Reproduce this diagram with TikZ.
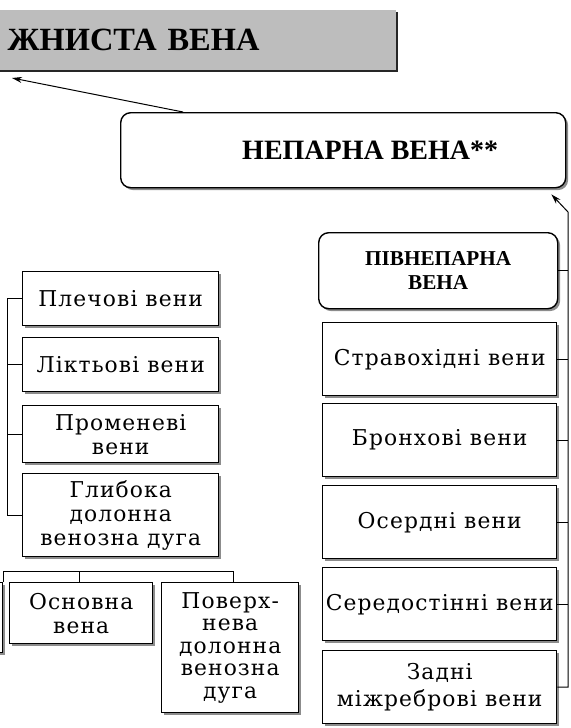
\documentclass[tikz,border=0pt]{standalone}
\usepackage{fontspec}
\setmainfont[LetterSpace=5]{DejaVu Serif}
\newfontfamily\headfont{Liberation Serif}
\usetikzlibrary{shadows,arrows.meta}
\tikzset{
    vbox/.style={draw, line width=0.7pt, fill=white, align=center, inner sep=0pt,
        font=\fontsize{10.9}{12}\selectfont,
        drop shadow={shadow xshift=1.2pt, shadow yshift=-1.2pt, fill=black!45, opacity=1}},
    rbox/.style={vbox, rounded corners=5pt, font=\headfont\bfseries\fontsize{14}{15}\selectfont},
    topbox/.style={fill=black!26, inner xsep=14pt, align=left, text width=180pt,
        minimum width=208pt, minimum height=30pt,
        font=\headfont\bfseries\fontsize{16.2}{20}\selectfont,
        drop shadow={shadow xshift=1.2pt, shadow yshift=-1.2pt, fill=black!85, opacity=1}},
    arr/.style={line width=0.5pt, -{Stealth[length=5pt,width=3pt]}},
    con/.style={line width=0.5pt}
}
\begin{document}
\begin{tikzpicture}[x=0.5pt, y=-0.5pt]
    \useasboundingbox (0,0) rectangle (571,728);
    \clip (0,0) rectangle (571,728);

    % top
    \node[topbox, anchor=south east] (vpv) at (396,70) {ЖНИСТА ВЕНА};
    \node[rbox, anchor=north west, minimum width=222.5pt, minimum height=37.5pt] (nep) at (120,112) {\hspace*{27pt}НЕПАРНА ВЕНА**};
    \coordinate (vpvtip) at (12,78);
    \draw[arr] ([xshift=31.5pt]nep.north west) -- (vpvtip);

    % left column
    \node[vbox, anchor=north west, minimum width=98pt, minimum height=27pt] (ple) at (22,271) {Плечові вени};
    \node[vbox, anchor=north west, minimum width=98pt, minimum height=27pt] (lik) at (22,337) {Ліктьові вени};
    \node[vbox, anchor=north west, minimum width=98pt, minimum height=28.5pt] (pro) at (22,405) {Променеві\\вени};
    \node[vbox, anchor=north west, minimum width=98pt, minimum height=41.5pt] (hly) at (22,473) {Глибока\\долонна\\венозна дуга};
    \coordinate (lb) at (7,0);
    \draw[con] (ple.west) -- (ple.west -| lb) -- (hly.west -| lb) -- (hly.west);
    \foreach \n in {lik,pro}
        \draw[con] (\n.west) -- (\n.west -| lb);

    % bottom
    \node[vbox, anchor=north east, minimum width=40pt, minimum height=35pt] (cut) at (3,582) {};
    \node[vbox, anchor=north west, minimum width=71.5pt, minimum height=30.5pt] (osn) at (9,582) {Основна\\вена};
    \node[vbox, anchor=north west, minimum width=68.5pt, minimum height=65pt,
        font=\fontsize{10.9}{11.2}\selectfont] (pov) at (161,582) {Поверх-\\нева\\долонна\\венозна\\дуга};
    \coordinate (bh) at (0,571);
    \draw[con] (cut.north east) -- (cut.north east |- bh) -- ([xshift=1.5pt]pov.north |- bh) -- ([xshift=1.5pt]pov.north);
    \draw[con] ([xshift=-0.8pt]osn.north) -- ([xshift=-0.8pt]osn.north |- bh);

    % right column
    \node[rbox, anchor=north west, minimum width=119.5pt, minimum height=38pt, font=\headfont\bfseries\fontsize{10.6}{12}\selectfont] (piv) at (318,232) {ПІВНЕПАРНА\\ВЕНА};
    \node[vbox, anchor=north west, minimum width=117pt, minimum height=36.5pt] (str) at (322,322) {Стравохідні вени};
    \node[vbox, anchor=north west, minimum width=117pt, minimum height=36.5pt] (bro) at (322,403) {Бронхові вени};
    \node[vbox, anchor=north west, minimum width=117pt, minimum height=36.5pt] (ose) at (322,485) {Осердні вени};
    \node[vbox, anchor=north west, minimum width=117pt, minimum height=36.5pt] (ser) at (322,567) {Середостінні вени};
    \node[vbox, anchor=north west, minimum width=117pt, minimum height=36.5pt,
        font=\fontsize{10.9}{13.5}\selectfont] (zad) at (322,650) {Задні\\міжреброві вени};
    \coordinate (rtop) at (568,212);
    \draw[arr] (zad.east) -| (rtop) -- ([xshift=-7.5pt,yshift=-3pt]nep.south east);
    \foreach \n in {piv,str,bro,ose,ser}
        \draw[con] (\n.east) -- (\n.east -| rtop);
\end{tikzpicture}
\end{document}
